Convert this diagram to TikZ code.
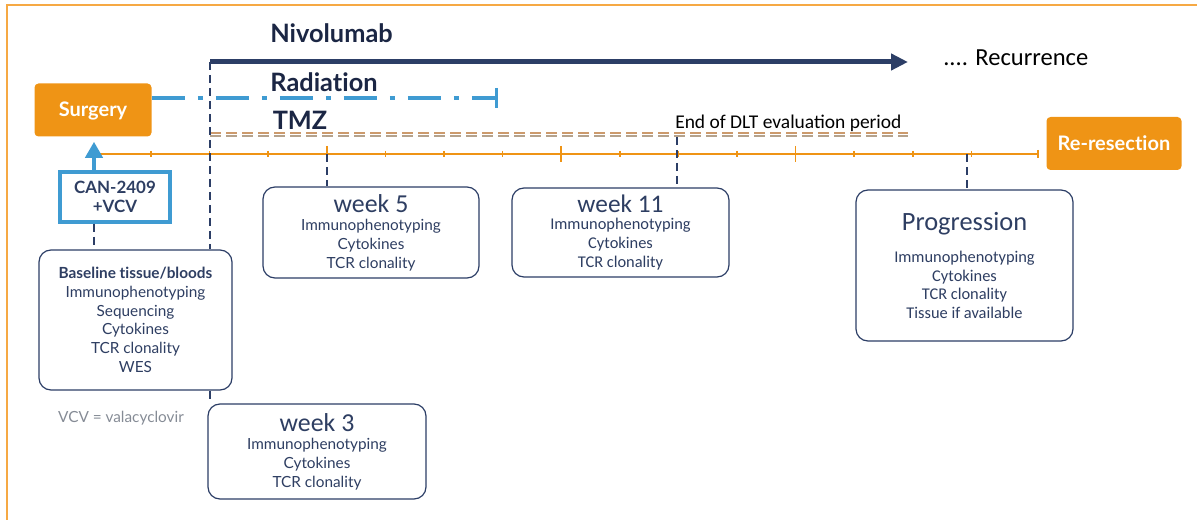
\documentclass[tikz,border=0pt]{standalone}
\usepackage{fontspec}
\setmainfont{Lato}[RawFeature=-liga]
\newfontfamily\calibri{Carlito}
\usetikzlibrary{positioning, arrows.meta}
\definecolor{TrialNavy}{HTML}{2C3E66}
\definecolor{TrialInk}{HTML}{1B2644}
\definecolor{TrialText}{HTML}{2E3E62}
\definecolor{TrialOrange}{HTML}{EF9415}
\definecolor{TrialFrame}{HTML}{F6A944}
\definecolor{TrialBlue}{HTML}{3F9BD2}
\definecolor{TrialGray}{HTML}{858B95}
\definecolor{TrialTan}{HTML}{CC9A6C}
\definecolor{TrialTanLight}{HTML}{B5A28C}
\def\pxu{0.75pt}

\begin{document}
\begin{tikzpicture}[x=0.75pt, y=-0.75pt,
    event/.style={fill=TrialOrange, rounded corners=3pt, text=white, inner sep=0pt,
        font=\bfseries\fontsize{15}{18}\selectfont},
    sample/.style={draw=TrialNavy, line width=0.9pt, rounded corners=9pt, fill=white,
        inner sep=0pt, align=center, text=TrialText, font=\fontsize{11.5}{14}\selectfont},
    calsample/.style={sample, font=\calibri\fontsize{12.3}{14}\selectfont},
    heading/.style={text=TrialInk, font=\bfseries\fontsize{19}{22}\selectfont},
    guide/.style={TrialNavy, line width=1.5pt, dash pattern=on 6pt off 3.75pt},
    tick/.style={TrialOrange, line width=1.1pt}]
    \useasboundingbox (0,0) rectangle (1197,520);
    % frame
    \draw[TrialFrame, line width=1.2pt] (7,520) -- (7,5) -- (1197,5);

    % treatment bars
    \coordinate (nivostart) at (210,62);
    \coordinate (nivoend) at (908,62);
    \coordinate (radend) at (498,98);
    \coordinate (tmzstart) at (210,133);
    \coordinate (tmzend) at (908,133);
    \node[heading, anchor=base] (nivo) at (331.5,43) {Nivolumab};
    \node[heading, anchor=base] (rad) at (324,92) {Radiation};
    \node[heading, anchor=base] (tmz) at (300,130) {TMZ};
    \node[anchor=base west, inner sep=0pt, font=\calibri\fontsize{18.4}{22}\selectfont] (recur) at (943,66) {.... Recurrence};
    \node[anchor=base west, inner sep=0pt, font=\calibri\fontsize{14.6}{17}\selectfont] (dlt) at (675,129) {End of DLT evaluation period};

    % events
    \node[event, minimum width=117*\pxu, minimum height=53*\pxu, text depth=1pt] (surgery) at (93,110) {Surgery};
    \node[event, minimum width=135*\pxu, minimum height=53*\pxu] (reresect) at (1114,143.5) {Re-resection};
    \node[draw=TrialBlue, line width=2.3pt, minimum width=110*\pxu, minimum height=50*\pxu, align=center,
        text=TrialText, font=\bfseries\fontsize{12.7}{14.5}\selectfont] (can) at (115,197) {CAN-2409\\+VCV};

    \draw[TrialNavy, line width=3.75pt, -{Triangle[length=12.75pt, width=12pt]}] (nivostart) -- (nivoend);
    \draw[TrialBlue, line width=2.6pt, dash pattern=on 24.75pt off 9.75pt on 3.75pt off 9.75pt,
        -{Bar[width=15pt, line width=2.4pt]}] (surgery.east |- radend) -- (radend);
    \draw[TrialTan, line width=1.1pt, dash pattern=on 8.25pt off 3.75pt] (tmzstart) -- (tmzend);
    \draw[TrialTanLight, line width=1.1pt, dash pattern=on 8.25pt off 3.75pt] ([yshift=-2.25pt]tmzstart) -- ([yshift=-2.25pt]tmzend);

    % timeline
    \coordinate (tlstart) at (94,154);
    \coordinate (tlend) at (1038,154);
    \draw[TrialOrange, line width=1.5pt] (tlstart) -- (tlend);
    \draw[tick] ([yshift=3pt]tlend) -- ([yshift=-3pt]tlend);
    \foreach \k in {0,...,14} {
        \pgfmathsetmacro{\x}{151 + 58.6*\k}
        \draw[tick] (\x,151) -- (\x,157);
    }
    \foreach \k in {3,7,11} {
        \pgfmathsetmacro{\x}{151 + 58.6*\k}
        \draw[tick] (\x,146) -- (\x,162);
    }

    % sampling boxes
    \node[sample, minimum width=193*\pxu, minimum height=140*\pxu] (baseline) at (135.5,320)
        {{\bfseries Baseline tissue/bloods}\\Immunophenotyping\\Sequencing\\Cytokines\\TCR clonality\\WES};
    \node[sample, minimum width=216*\pxu, minimum height=91*\pxu] (week5) at (371,232.5)
        {{\calibri\fontsize{19.4}{14}\selectfont week 5}\\Immunophenotyping\\Cytokines\\TCR clonality};
    \node[calsample, minimum width=217*\pxu, minimum height=89*\pxu] (week11) at (620.5,232.5)
        {{\fontsize{19}{14}\selectfont week 11}\\[-1pt]Immunophenotyping\\Cytokines\\TCR clonality};
    \node[calsample, minimum width=217*\pxu, minimum height=151*\pxu] (progression) at (964.5,265.5)
        {{\fontsize{19.8}{14}\selectfont Progression}\\[10pt]Immunophenotyping\\Cytokines\\TCR clonality\\Tissue if available};
    \node[sample, minimum width=218*\pxu, minimum height=95*\pxu] (week3) at (317,451.5)
        {{\calibri\fontsize{19.4}{14}\selectfont week 3}\\Immunophenotyping\\Cytokines\\TCR clonality};
    \node[anchor=base, text=TrialGray, font=\fontsize{11.5}{14}\selectfont] (vcvnote) at (121,422) {VCV = valacyclovir};

    % connectors
    \coordinate (infusion) at (94,171);
    \draw[TrialBlue, line width=3.4pt, -{Triangle[length=12pt, width=12.75pt]}]
        (infusion) -- ([yshift=-3.75pt]infusion |- surgery.south);
    \draw[guide] (infusion |- can.south) -- (infusion |- baseline.north);
    \draw[guide] (nivostart) -- (nivostart |- baseline.north);
    \draw[guide] (nivostart |- baseline.south) -- (nivostart |- week3.north);
    \coordinate (wk5tick) at (326.8,154);
    \draw[guide] (wk5tick) -- (wk5tick |- week5.north);
    \coordinate (dltmark) at (677,137);
    \draw[guide] (dltmark) -- (dltmark |- week11.north);
    \coordinate (progtick) at (967,154);
    \draw[guide] (progtick) -- (progtick |- progression.north);
\end{tikzpicture}
\end{document}
